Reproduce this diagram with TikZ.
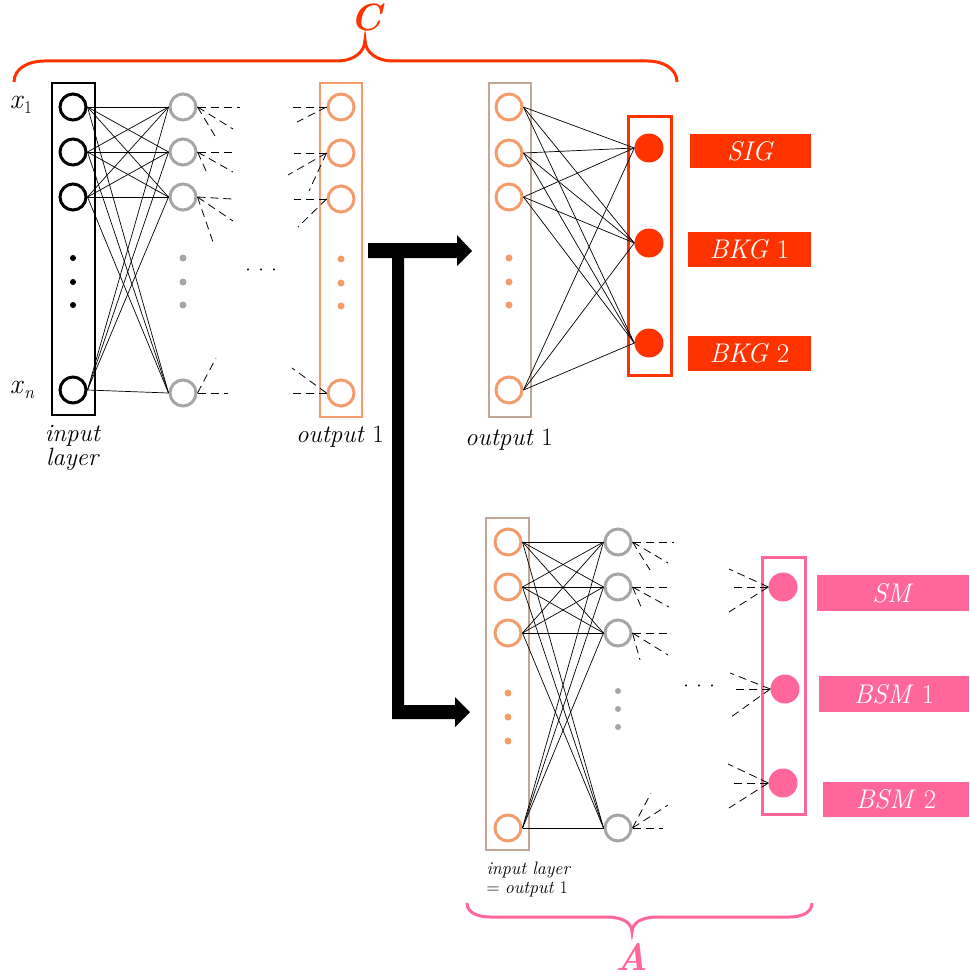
\documentclass[tikz,border=0pt]{standalone}
\usepackage{fontspec}
\usepackage{tikz}
\definecolor{cred}{HTML}{FF3300}
\definecolor{corange}{HTML}{F59C6C}
\definecolor{cgray}{HTML}{A6A6A6}
\definecolor{cbrown}{HTML}{C2A696}
\definecolor{cpink}{HTML}{FF6699}
\newcommand{\tridots}{\makebox[13pt]{·}\makebox[13pt]{·}\makebox[13pt]{·}}
\tikzset{
  neuron/.style={circle,draw,line width=3pt,minimum size=26pt,inner sep=0pt},
  inneuron/.style={neuron,draw=black},
  hidneuron/.style={neuron,draw=cgray},
  orneuron/.style={neuron,draw=corange},
  filledneuron/.style={circle,minimum size=29pt,inner sep=0pt},
  conn/.style={line width=0.7pt,black},
  stub/.style={line width=0.8pt,black,dash pattern=on 8pt off 5pt},
  labelbox/.style={inner sep=0pt,text=white,font=\fontsize{27}{29}\selectfont},
  txt/.style={font=\fontsize{25}{27}\selectfont},
}
\begin{document}
\begin{tikzpicture}[x=1pt,y=-1pt]
\useasboundingbox (0,0) rectangle (969,979);

% ---------- brace C ----------
\draw[cred,line width=3pt] (14,82) to[out=90,in=180] (44,61) -- (338,61)
  to[out=0,in=-90] (365,40) to[out=-90,in=180] (392,61) -- (648,61)
  to[out=0,in=90] (677,82);
\node[text=cred,font=\fontsize{38}{40}\selectfont\bfseries\itshape] (lC) at (366,17) {C};

% ---------- block 1: input layer ----------
\draw[black,line width=2pt] (52,83) rectangle (95,415);
\node[inneuron] (i1) at (73,107) {};
\node[inneuron] (i2) at (73,152) {};
\node[inneuron] (i3) at (73,197) {};
\node[inneuron] (i4) at (73,390) {};
\foreach \y in {258,282,305} \fill[black] (73,\y) circle (3);
\node[font=\fontsize{28}{30}\selectfont] (x1) at (21,105) {\textit{x}\raisebox{-5pt}{\fontsize{18}{18}\selectfont 1}};
\node[font=\fontsize{28}{30}\selectfont] (xn) at (22,390) {\textit{x}\raisebox{-5pt}{\fontsize{18}{18}\selectfont\itshape n}};
\node[txt,align=center] (inl) at (73,448) {\textit{input}\\[-3pt]\textit{layer}};

% hidden layer 1
\node[hidneuron] (h1) at (183,107) {};
\node[hidneuron] (h2) at (183,152) {};
\node[hidneuron] (h3) at (183,197) {};
\node[hidneuron] (h4) at (183,393) {};
\foreach \y in {258,282,305} \fill[cgray] (183,\y) circle (3.5);
\foreach \a in {i1,i2,i3,i4} \foreach \b in {h1,h2,h3,h4} \draw[conn] (\a.east) -- (\b.west);

\draw[stub] (h1.east) -- (240,107); \draw[stub] (h1.east) -- (233,129); \draw[stub] (h1.east) -- (215,136);
\draw[stub] (h2.east) -- (233,152); \draw[stub] (h2.east) -- (233,172); \draw[stub] (h2.east) -- (207,173);
\draw[stub] (h3.east) -- (232,199); \draw[stub] (h3.east) -- (233,221); \draw[stub] (h3.east) -- (214,245);
\draw[stub] (h4.east) -- (228,393); \draw[stub] (h4.east) -- (216,358);

\node[txt] (dotsA) at (261,274) {\tridots};

% output 1 column
\draw[corange,line width=1.2pt] (320,83) rectangle (362,417);
\node[orneuron] (o1) at (341,107) {};
\node[orneuron] (o2) at (341,153) {};
\node[orneuron] (o3) at (341,199) {};
\node[orneuron] (o4) at (341,393) {};
\foreach \y in {259,283,306} \fill[corange] (341,\y) circle (3.5);
\draw[stub] (o1.west) -- (292,107); \draw[stub] (o1.west) -- (297,122);
\draw[stub] (o2.west) -- (294,153); \draw[stub] (o2.west) -- (288,175); \draw[stub] (o2.west) -- (309,191);
\draw[stub] (o3.west) -- (294,199); \draw[stub] (o3.west) -- (298,227);
\draw[stub] (o4.west) -- (292,393); \draw[stub] (o4.west) -- (292,368);
\node[txt] (out1a) at (340,437) {\textit{output} 1};

% ---------- thick black arrows ----------
\fill[black] (368,243) -- (457,243) -- (457,235) -- (472,251) -- (457,266) -- (457,258)
  -- (404,258) -- (404,705) -- (455,705) -- (455,697) -- (470,712) -- (455,727) -- (455,719)
  -- (392,719) -- (392,258) -- (368,258) -- cycle;

% ---------- block 2: classifier ----------
\draw[cbrown,line width=1.5pt] (489,83) rectangle (531,417);
\node[orneuron] (p1) at (509,107) {};
\node[orneuron] (p2) at (509,153) {};
\node[orneuron] (p3) at (509,197) {};
\node[orneuron] (p4) at (509,390) {};
\foreach \y in {258,282,305} \fill[corange] (509,\y) circle (3.5);
\node[txt] (out1b) at (509,440) {\textit{output} 1};

\draw[cred,line width=3pt] (628,117) rectangle (671,375);
\node[filledneuron,fill=cred] (r1) at (649,148) {};
\node[filledneuron,fill=cred] (r2) at (649,243) {};
\node[filledneuron,fill=cred] (r3) at (649,343) {};
\foreach \a in {p1,p2,p3,p4} \foreach \b in {r1,r2,r3} \draw[conn] (\a.east) -- (\b.west);

\node[labelbox,fill=cred,minimum width=121pt,minimum height=34pt] (sig) at (750.5,151) {\textit{SIG}};
\node[labelbox,fill=cred,minimum width=123pt,minimum height=35pt] (bkg1) at (749.5,249.5) {\textit{BKG} 1};
\node[labelbox,fill=cred,minimum width=123pt,minimum height=35pt] (bkg2) at (749.5,353.5) {\textit{BKG} 2};

% ---------- block 3: anomaly ----------
\draw[cbrown,line width=1.5pt] (486,518) rectangle (529,850);
\node[orneuron] (q1) at (508,542) {};
\node[orneuron] (q2) at (508,587) {};
\node[orneuron] (q3) at (508,633) {};
\node[orneuron] (q4) at (508,828) {};
\foreach \y in {693,717,741} \fill[corange] (508,\y) circle (3.5);

\node[hidneuron] (g1) at (618,542) {};
\node[hidneuron] (g2) at (618,587) {};
\node[hidneuron] (g3) at (618,633) {};
\node[hidneuron] (g4) at (618,828) {};
\foreach \y in {691,709,727} \fill[cgray] (618,\y) circle (3);
\foreach \a in {q1,q2,q3,q4} \foreach \b in {g1,g2,g3,g4} \draw[conn] (\a.east) -- (\b.west);

\draw[stub] (g1.east) -- (674,542); \draw[stub] (g1.east) -- (668,563); \draw[stub] (g1.east) -- (650,570);
\draw[stub] (g2.east) -- (668,587); \draw[stub] (g2.east) -- (669,607); \draw[stub] (g2.east) -- (642,609);
\draw[stub] (g3.east) -- (667,633); \draw[stub] (g3.east) -- (668,655); \draw[stub] (g3.east) -- (640,660);
\draw[stub] (g4.east) -- (663,828); \draw[stub] (g4.east) -- (651,793); \draw[stub] (g4.east) -- (668,805);

\node[txt] (dotsB) at (699,690) {\tridots};

\draw[cpink,line width=3pt] (762,557) rectangle (805,814);
\node[filledneuron,fill=cpink] (k1) at (783,587) {};
\node[filledneuron,fill=cpink] (k2) at (785,689) {};
\node[filledneuron,fill=cpink] (k3) at (783,783) {};
\draw[stub] (k1.west) -- (729,569); \draw[stub] (k1.west) -- (731,587); \draw[stub] (k1.west) -- (729,612);
\draw[stub] (k2.west) -- (730,673); \draw[stub] (k2.west) -- (733,689); \draw[stub] (k2.west) -- (731,717);
\draw[stub] (k3.west) -- (728,764); \draw[stub] (k3.west) -- (731,783); \draw[stub] (k3.west) -- (729,808);

\node[labelbox,fill=cpink,minimum width=152pt,minimum height=36pt] (sm) at (893,593) {\textit{SM}};
\node[labelbox,fill=cpink,minimum width=150pt,minimum height=36pt] (bsm1) at (894,694) {\textit{BSM} 1};
\node[labelbox,fill=cpink,minimum width=146pt,minimum height=35pt] (bsm2) at (896,799.5) {\textit{BSM} 2};

\node[anchor=west,align=left,font=\fontsize{18}{19}\selectfont] (inl2) at (483,879)
  {\textit{input layer}\\= \textit{output} 1};

% ---------- brace A ----------
\draw[cpink,line width=3pt] (467,903) to[out=-90,in=180] (490,917) -- (607,917)
  to[out=0,in=90] (632,932) to[out=90,in=180] (657,917) -- (790,917)
  to[out=0,in=-90] (812,903);
\node[text=cpink,font=\fontsize{38}{40}\selectfont\bfseries\itshape] (lA) at (632,957) {A};
\end{tikzpicture}
\end{document}
